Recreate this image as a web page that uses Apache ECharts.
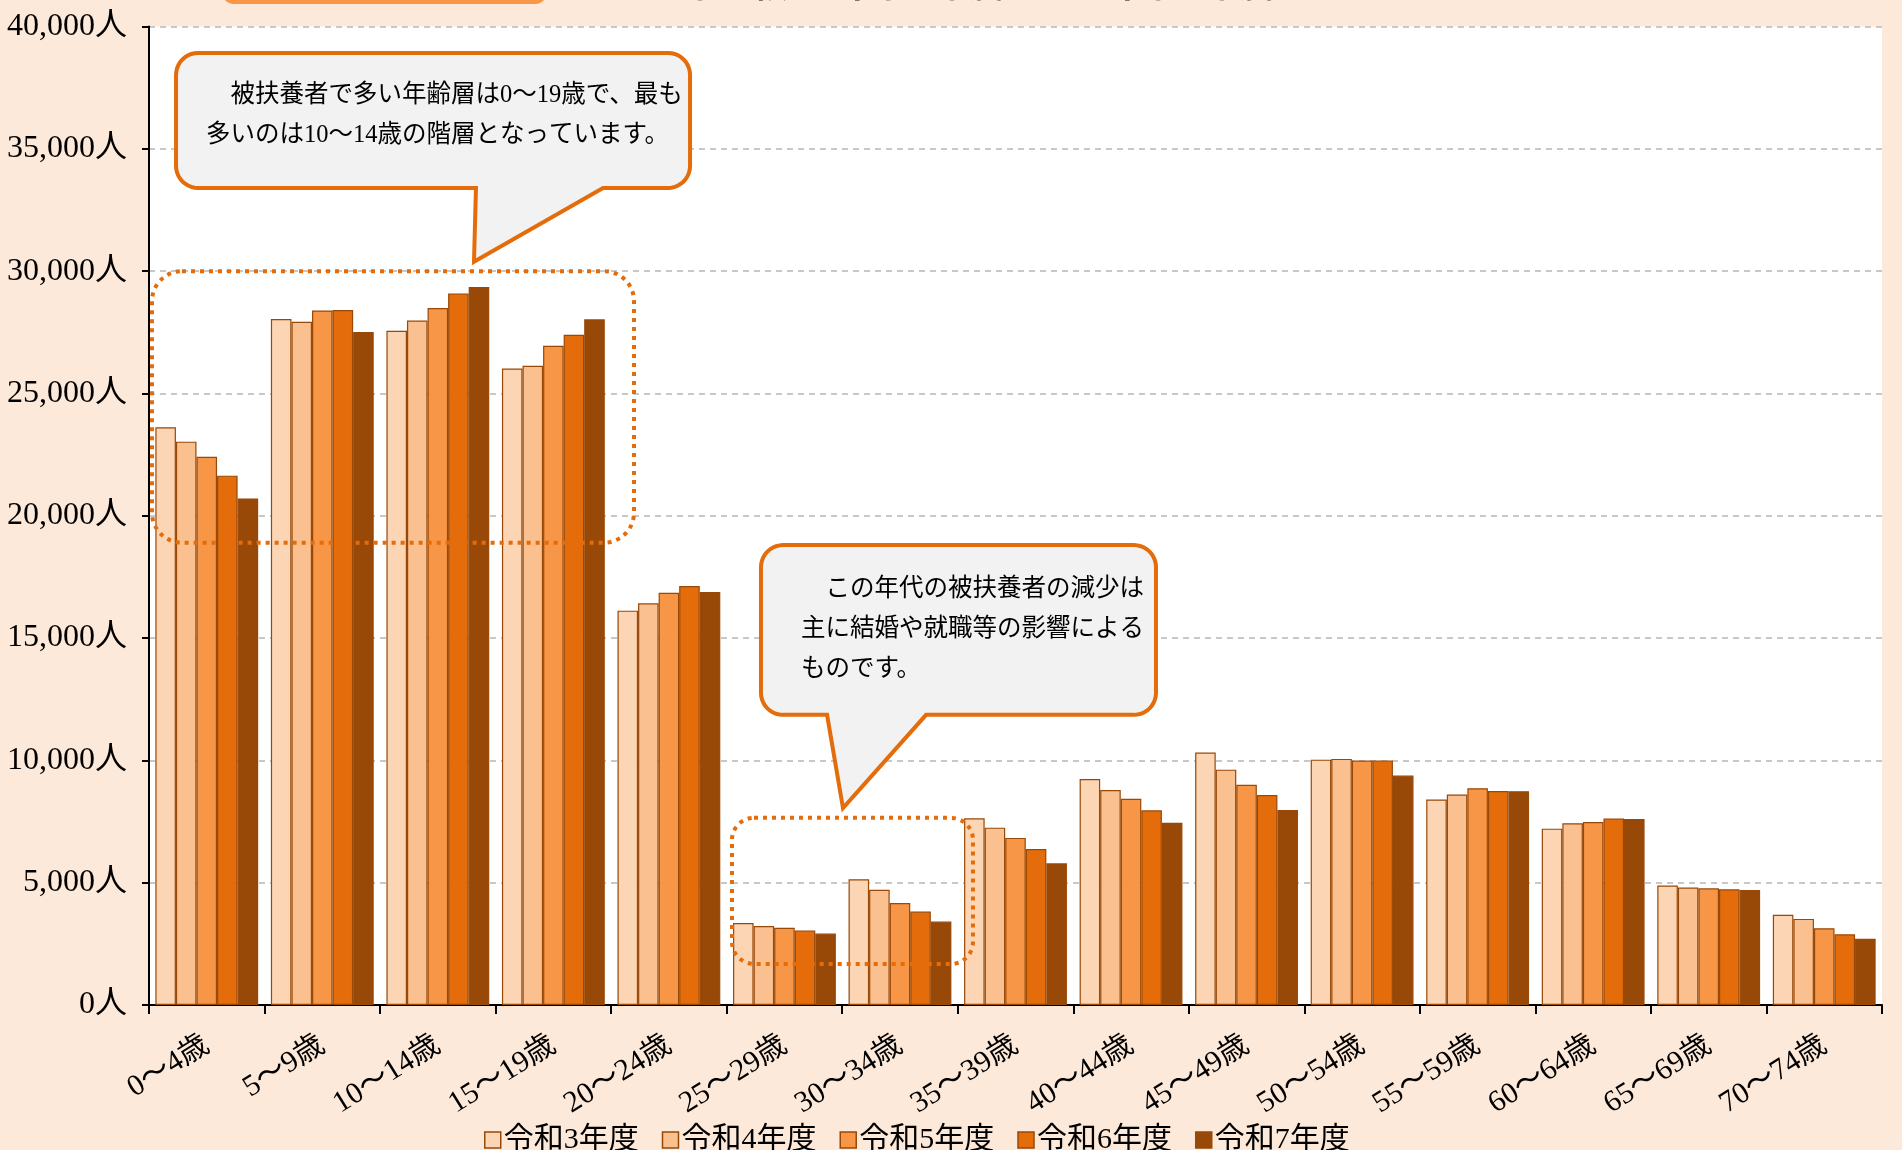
<!DOCTYPE html>
<html>
<head>
<meta charset="utf-8">
<script src="https://cdn.jsdelivr.net/npm/echarts@6/dist/echarts.min.js"></script>
<style>
html,body{margin:0;padding:0;background:#FDE9D9;}
#main{width:1902px;height:1150px;}
</style>
</head>
<body>
<div id="main"></div>
<script>
const categories = ['0〜4歳','5〜9歳','10〜14歳','15〜19歳','20〜24歳','25〜29歳','30〜34歳','35〜39歳','40〜44歳','45〜49歳','50〜54歳','55〜59歳','60〜64歳','65〜69歳','70〜74歳'];
const seriesNames = ['令和3年度','令和4年度','令和5年度','令和6年度','令和7年度'];
const r3 = [23620, 28040, 27560, 26020, 16120, 3350, 5140, 7630, 9240, 10320, 10030, 8400, 7210, 4880, 3690];
const r4 = [23030, 27930, 27980, 26130, 16420, 3230, 4710, 7250, 8790, 9620, 10060, 8600, 7430, 4800, 3520];
const r5 = [22410, 28390, 28490, 26950, 16850, 3160, 4170, 6830, 8430, 9000, 9990, 8860, 7480, 4770, 3140];
const r6 = [21640, 28410, 29090, 27400, 17130, 3050, 3820, 6380, 7960, 8580, 10000, 8750, 7620, 4730, 2890];
const r7 = [20710, 27510, 29350, 28030, 16880, 2920, 3410, 5790, 7450, 7970, 9380, 8740, 7600, 4700, 2710];
const yTicks = [0, 5000, 10000, 15000, 20000, 25000, 30000, 35000, 40000];
const note1 = '　被扶養者で多い年齢層は0〜19歳で、最も\n多いのは10〜14歳の階層となっています。';
const note2 = '　この年代の被扶養者の減少は\n主に結婚や就職等の影響による\nものです。';
const titleText = '（5ヵ年比較）　令和3年度　〜　令和7年度）';

const colors = ['#FCD5B4','#FAC090','#F79646','#E46C0A','#984807'];
const FONT = "'Liberation Serif','Noto Sans CJK JP',serif";
const allData = [r3, r4, r5, r6, r7];

const chart = echarts.init(document.getElementById('main'), null, {renderer:'canvas'});

const series = seriesNames.map((n, i) => ({
  name: n,
  type: 'bar',
  data: allData[i],
  barGap: '0%',
  barCategoryGap: '11%',
  itemStyle: {color: colors[i], borderColor: '#984807', borderWidth: 1.2},
  emphasis: {disabled: true},
  animation: false
}));

chart.setOption({
  backgroundColor: '#FDE9D9',
  animation: false,
  textStyle: {fontFamily: FONT},
  grid: {left: 149, right: 20, top: 26.5, bottom: 145, show: true, backgroundColor: '#FFFFFF', borderWidth: 0},
  legend: {
    left: 479, top: 1120,
    icon: 'rect', itemWidth: 16, itemHeight: 16, itemGap: 23,
    textStyle: {fontSize: 30, color: '#000', fontFamily: FONT, padding: [0,0,0,-2]},
    itemStyle: {borderColor: '#984807', borderWidth: 1.5},
    data: seriesNames
  },
  xAxis: {
    type: 'category',
    data: categories,
    axisLine: {lineStyle: {color: '#000', width: 2}},
    axisTick: {show: true, length: 9, lineStyle: {color: '#000', width: 2}},
    axisLabel: {rotate: 32, margin: 38, fontSize: 30, color: '#000', fontFamily: FONT, interval: 0},
    splitLine: {show: false}
  },
  yAxis: {
    type: 'value',
    min: yTicks[0], max: yTicks[yTicks.length-1], interval: yTicks[1]-yTicks[0],
    axisLine: {show: true, lineStyle: {color: '#000', width: 2}},
    axisTick: {show: true, length: 7, lineStyle: {color: '#000', width: 2}},
    axisLabel: {fontSize: 32, color: '#000', margin: 22, fontFamily: FONT,
      formatter: v => v.toLocaleString('en-US') + '人'},
    splitLine: {lineStyle: {color: '#C8C8C8', width: 2, type: [6, 5]}}
  },
  series: series
});

// annotation helpers
const c0 = chart.convertToPixel({xAxisIndex: 0}, categories[0]);
const c1 = chart.convertToPixel({xAxisIndex: 0}, categories[1]);
const bw = c1 - c0;
const gl = c0 - bw / 2;
function P(u, v) { return [gl + u * bw, chart.convertToPixel({yAxisIndex: 0}, v)]; }

function roundedBubble(tl, br, rad, tailL, tailR, tip) {
  const l = tl[0], t = tl[1], r = br[0], b = br[1];
  const pts = [];
  function arc(cx, cy, a0, a1) {
    for (let k = 0; k <= 10; k++) {
      const a = (a0 + (a1 - a0) * k / 10) * Math.PI / 180;
      pts.push([cx + rad * Math.cos(a), cy + rad * Math.sin(a)]);
    }
  }
  arc(l + rad, t + rad, 180, 270);
  arc(r - rad, t + rad, 270, 360);
  arc(r - rad, b - rad, 0, 90);
  pts.push([tailR, b]);
  pts.push(tip);
  pts.push([tailL, b]);
  arc(l + rad, b - rad, 90, 180);
  return pts;
}

// dotted boxes
const d1a = P(0.026, 30000), d1b = P(4.198, 18900);
const d2a = P(5.046, 7650), d2b = P(7.132, 1680);
// bubble 1
const b1a = P(0.234, 38920), b1b = P(4.683, 33400);
const b1tip = P(2.813, 30380);
const b1tl = P(2.830, 0)[0], b1tr = P(3.930, 0)[0];
// bubble 2
const b2a = P(5.297, 18800), b2b = P(8.716, 11860);
const b2tip = P(6.007, 8050);
const b2tl = P(5.869, 0)[0], b2tr = P(6.726, 0)[0];

const ORANGE = '#E46C0A';
chart.setOption({
  graphic: [
    {type: 'rect', z: 100, shape: {x: 223, y: -40, width: 323, height: 44, r: 10}, style: {fill: '#F79646'}},
    {type: 'text', z: 100, x: 590, y: 6, style: {text: titleText, font: "bold 36px " + FONT, fill: '#000', textVerticalAlign: 'bottom', verticalAlign: 'bottom'}},
    {type: 'rect', z: 100, shape: {x: d1a[0], y: d1a[1], width: d1b[0]-d1a[0], height: d1b[1]-d1a[1], r: 30},
      style: {fill: 'none', stroke: ORANGE, lineWidth: 4, lineDash: [4, 5]}},
    {type: 'rect', z: 100, shape: {x: d2a[0], y: d2a[1], width: d2b[0]-d2a[0], height: d2b[1]-d2a[1], r: 22},
      style: {fill: 'none', stroke: ORANGE, lineWidth: 4, lineDash: [4, 5]}},
    {type: 'polygon', z: 100, shape: {points: roundedBubble(b1a, b1b, 22, b1tl, b1tr, b1tip)},
      style: {fill: '#F2F2F2', stroke: ORANGE, lineWidth: 4, lineJoin: 'miter'}},
    {type: 'text', z: 101, x: b1a[0] + 30, y: b1a[1] + 23,
      style: {text: note1, font: "24.5px " + FONT, fill: '#000', lineHeight: 40, textVerticalAlign: 'top', verticalAlign: 'top'}},
    {type: 'polygon', z: 100, shape: {points: roundedBubble(b2a, b2b, 22, b2tl, b2tr, b2tip)},
      style: {fill: '#F2F2F2', stroke: ORANGE, lineWidth: 4, lineJoin: 'miter'}},
    {type: 'text', z: 101, x: b2a[0] + 40, y: b2a[1] + 24,
      style: {text: note2, font: "24.5px " + FONT, fill: '#000', lineHeight: 40, textVerticalAlign: 'top', verticalAlign: 'top'}}
  ]
});
</script>
</body>
</html>
